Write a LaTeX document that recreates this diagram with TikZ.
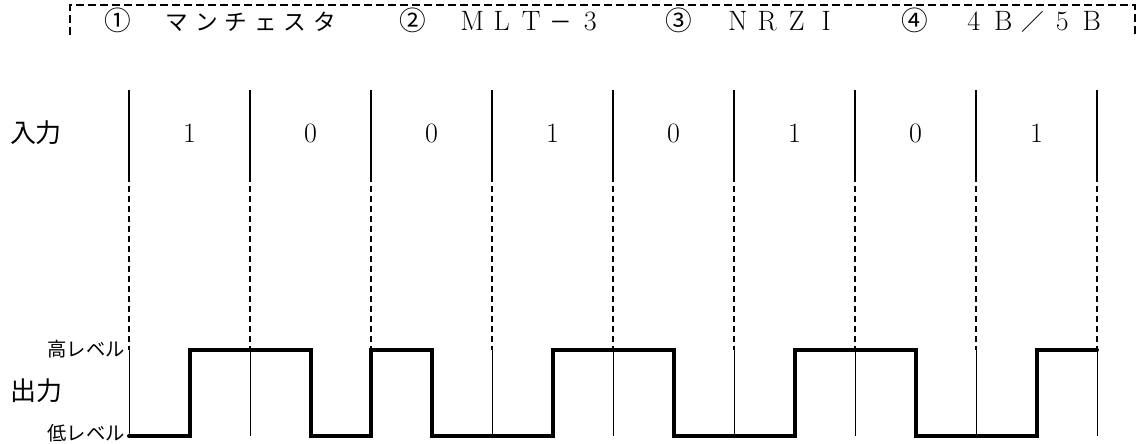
\documentclass[tikz,border=0pt]{standalone}
\usepackage{fontspec}
\newfontfamily\jp{Noto Sans CJK JP}
\newcommand\hc[1]{\makebox[22.125pt]{#1}}
\newcommand\hk[1]{\hc{\fontsize{17}{20}\jp #1}}
\newcommand\hn[1]{\hc{\fontsize{20}{24}\jp #1}}
\newcommand\hl[1]{\hc{\fontsize{21}{24}\selectfont #1}}
\begin{document}
\begin{tikzpicture}[x=0.75pt,y=-0.75pt,
  bigjp/.style={font=\fontsize{19.5}{22}\jp, inner sep=0pt},
  smalljp/.style={font=\fontsize{14.5}{17}\jp, inner sep=0pt},
  bit/.style={font=\fontsize{21}{24}\selectfont, inner sep=0pt},
  hdrbox/.style={line width=1pt, dash pattern=on 6pt off 3pt},
  topline/.style={line width=1.1pt},
  midline/.style={line width=0.9pt, dash pattern=on 4.5pt off 3pt},
  lowline/.style={line width=0.7pt},
  signal/.style={line width=3pt, line join=miter, line cap=round}]
\useasboundingbox (0,0) rectangle (1139,443);
% header box (top and sides)
\coordinate (hbl) at (70,35);
\coordinate (htl) at (70,5);
\coordinate (htr) at (1135,5);
\coordinate (hbr) at (1135,35);
\draw[hdrbox] (hbl) -- (htl) -- (htr) -- (hbr);
\node[anchor=base west, inner sep=0pt] (hdr) at (103.25,30)
 {\hn{①}\hc{}\hk{マ}\hk{ン}\hk{チ}\hk{ェ}\hk{ス}\hk{タ}\hc{}\hc{}%
  \hn{②}\hc{}\hl{M}\hl{L}\hl{T}\hk{－}\hl{3}\hc{}\hc{}%
  \hn{③}\hc{}\hl{N}\hl{R}\hl{Z}\hl{I}\hc{}\hc{}%
  \hn{④}\hc{}\hl{4}\hl{B}\hk{／}\hl{5}\hl{B}};
% labels
\node[bigjp] (in) at (36,133) {入力};
\node[bigjp] (out) at (37,391) {出力};
\node[smalljp, anchor=east] (hi) at (125,349) {高レベル};
\node[smalljp, anchor=east] (lo) at (125,433) {低レベル};
% vertical guide lines
\foreach \i in {0,...,8}{
  \pgfmathsetmacro{\xx}{129+121*\i}
  \coordinate (t\i) at (\xx,90);
  \coordinate (m\i) at (\xx,176);
  \coordinate (h\i) at (\xx,350);
  \coordinate (b\i) at (\xx,436);
  \draw[topline] (t\i) -- (m\i);
  \draw[midline] (m\i) -- (h\i);
  \draw[lowline] (h\i) -- (b\i);
}
% bit values
\foreach \v [count=\k from 0] in {1,0,0,1,0,1,0,1}{
  \node[bit] (bit\k) at ({189.5+121*\k},133) {\v};
}
% output signal (Manchester)
\draw[signal] (b0) -- (189.5,436) -- (189.5,350) -- (310.5,350) -- (310.5,436)
  -- (371,436) -- (371,350) -- (431.5,350) -- (431.5,436)
  -- (552.5,436) -- (552.5,350) -- (673.5,350) -- (673.5,436)
  -- (794.5,436) -- (794.5,350) -- (915.5,350) -- (915.5,436)
  -- (1036.5,436) -- (1036.5,350) -- (h8);
\end{tikzpicture}
\end{document}
